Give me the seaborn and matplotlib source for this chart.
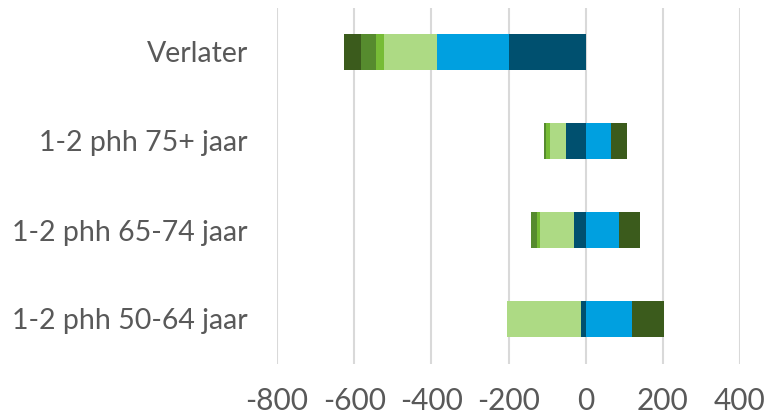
import numpy as np
import pandas as pd
import matplotlib
matplotlib.use("Agg")
import matplotlib.pyplot as plt
import seaborn as sns

categories = ["Verlater", "1-2 phh 75+ jaar", "1-2 phh 65-74 jaar", "1-2 phh 50-64 jaar"]
s_darkblue = [-198, -50, -31, -13]
s_lightblue = [-188, 65, 87, 120]
s_lightgreen = [-137, -43, -88, -190]
s_brightgreen = [-21, -9, -7, 0]
s_midgreen = [-38, -7, -15, 0]
s_darkgreen = [-45, 42, 54, 83]
x_ticks = [-800, -600, -400, -200, 0, 200, 400]

series = [s_darkblue, s_lightblue, s_lightgreen, s_brightgreen, s_midgreen, s_darkgreen]
colors = ["#00506F", "#00A0E0", "#ADDA84", "#77BC36", "#568B2E", "#3B5B1C"]

sns.set_theme(style="white")
plt.rcParams['font.family'] = ['Lato', 'DejaVu Sans']
plt.rcParams['axes.unicode_minus'] = False

fig = plt.figure(figsize=(7.67, 4.18), dpi=100)
ax = fig.add_axes([277/767, 1 - 363.5/418, (740 - 277)/767, (363.5 - 7.5)/418])

pos = np.zeros(len(categories))
neg = np.zeros(len(categories))
for vals, col in zip(series, colors):
    v = np.array(vals, dtype=float)
    left = np.where(v >= 0, pos, neg)
    df = pd.DataFrame({"cat": categories, "val": v})
    sns.barplot(data=df, x="val", y="cat", orient="h", color=col, width=0.4,
                left=left, ax=ax, saturation=1, errorbar=None, zorder=3,
                linewidth=0)
    pos = pos + np.where(v > 0, v, 0)
    neg = neg + np.where(v < 0, v, 0)

ax.set_xlim(-800, 400)
ax.set_xticks(x_ticks)
ax.set_xticklabels([str(t) for t in x_ticks])
ax.set_ylim(3.5, -0.5)
ax.set_xlabel("")
ax.set_ylabel("")
ax.grid(axis="x", color="#D9D9D9", linewidth=1.5, zorder=0)
ax.grid(axis="y", visible=False)
for sp in ax.spines.values():
    sp.set_visible(False)
ax.tick_params(axis="both", length=0, labelcolor="#595959")
ax.tick_params(axis="x", pad=17, labelsize=21.5)
ax.tick_params(axis="y", pad=21, labelsize=20.5)

fig.savefig("out.png", dpi=100)
